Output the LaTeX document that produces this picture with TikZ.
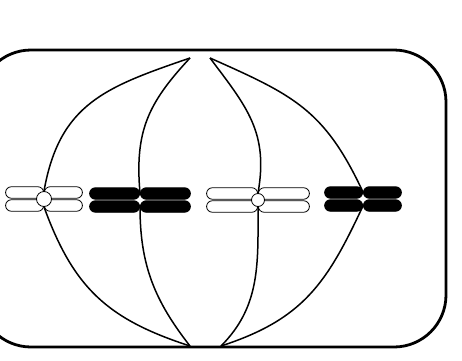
\documentclass[tikz,border=0pt]{standalone}
\usetikzlibrary{shapes.misc}

\tikzstyle{cell} = [line width=2.8pt, rounded corners=52pt]
\tikzstyle{arm} = [rounded rectangle, draw, line width=0.8pt, inner sep=0pt, minimum height=11.5pt]
\tikzstyle{centro} = [circle, inner sep=0pt, line width=0.8pt]
\tikzstyle{fibre} = [line width=1.5pt]

% four arms of one chromosome: name, x, y, arm length, fill
\newcommand{\chromatids}[5]{%
  \node[arm, #5, minimum width=#4, anchor=east] (#1-ul) at (#2,#3+6.5) {};
  \node[arm, #5, minimum width=#4, anchor=west] (#1-ur) at (#2,#3+6.5) {};
  \node[arm, #5, minimum width=#4, anchor=east] (#1-ll) at (#2,#3-6.5) {};
  \node[arm, #5, minimum width=#4, anchor=west] (#1-lr) at (#2,#3-6.5) {};
}

\begin{document}
\begin{tikzpicture}[x=1pt, y=1pt]
\useasboundingbox (0,0) rectangle (462,360);
\clip (0,0) rectangle (462,360);
%cell
\draw[cell] (-21,13) rectangle (446,310);
%chromosomes
\chromatids{k1}{44}{161}{38pt}{fill=white}
\chromatids{k2}{140}{160}{50pt}{fill=black}
\chromatids{k3}{258}{160}{51pt}{fill=white}
\chromatids{k4}{363}{161}{38pt}{fill=black}
%centromeres
\node[centro, draw, fill=white, minimum size=15pt] (c1) at (44,161) {};
\node[centro, minimum size=13pt] (c2) at (140,160) {};
\node[centro, draw, fill=white, minimum size=13pt] (c3) at (258,160) {};
\node[centro, minimum size=13pt] (c4) at (363,161) {};
%poles
\coordinate (tl) at (190,302);
\coordinate (tr) at (210,302);
\coordinate (bl) at (190,14);
\coordinate (br) at (221,14);
%spindle, upper half
\draw[fibre] (tl) to[out=199, in=80, looseness=1.15] (c1.north);
\draw[fibre] (tl) to[out=227, in=95, looseness=1.1] (c2.north);
\draw[fibre] (tr) to[out=-53, in=80, looseness=1.1] (c3.north);
\draw[fibre] (tr) to[out=-24, in=115, looseness=1.15] (c4.north);
%spindle, lower half
\draw[fibre] (c1.south) to[out=-70, in=162, looseness=1.1] (bl);
\draw[fibre] (c2.south) to[out=-90, in=128] (bl);
\draw[fibre] (c3.south) to[out=-90, in=45] (br);
\draw[fibre] (c4.south) to[out=245, in=18, looseness=1.1] (br);
\end{tikzpicture}
\end{document}
